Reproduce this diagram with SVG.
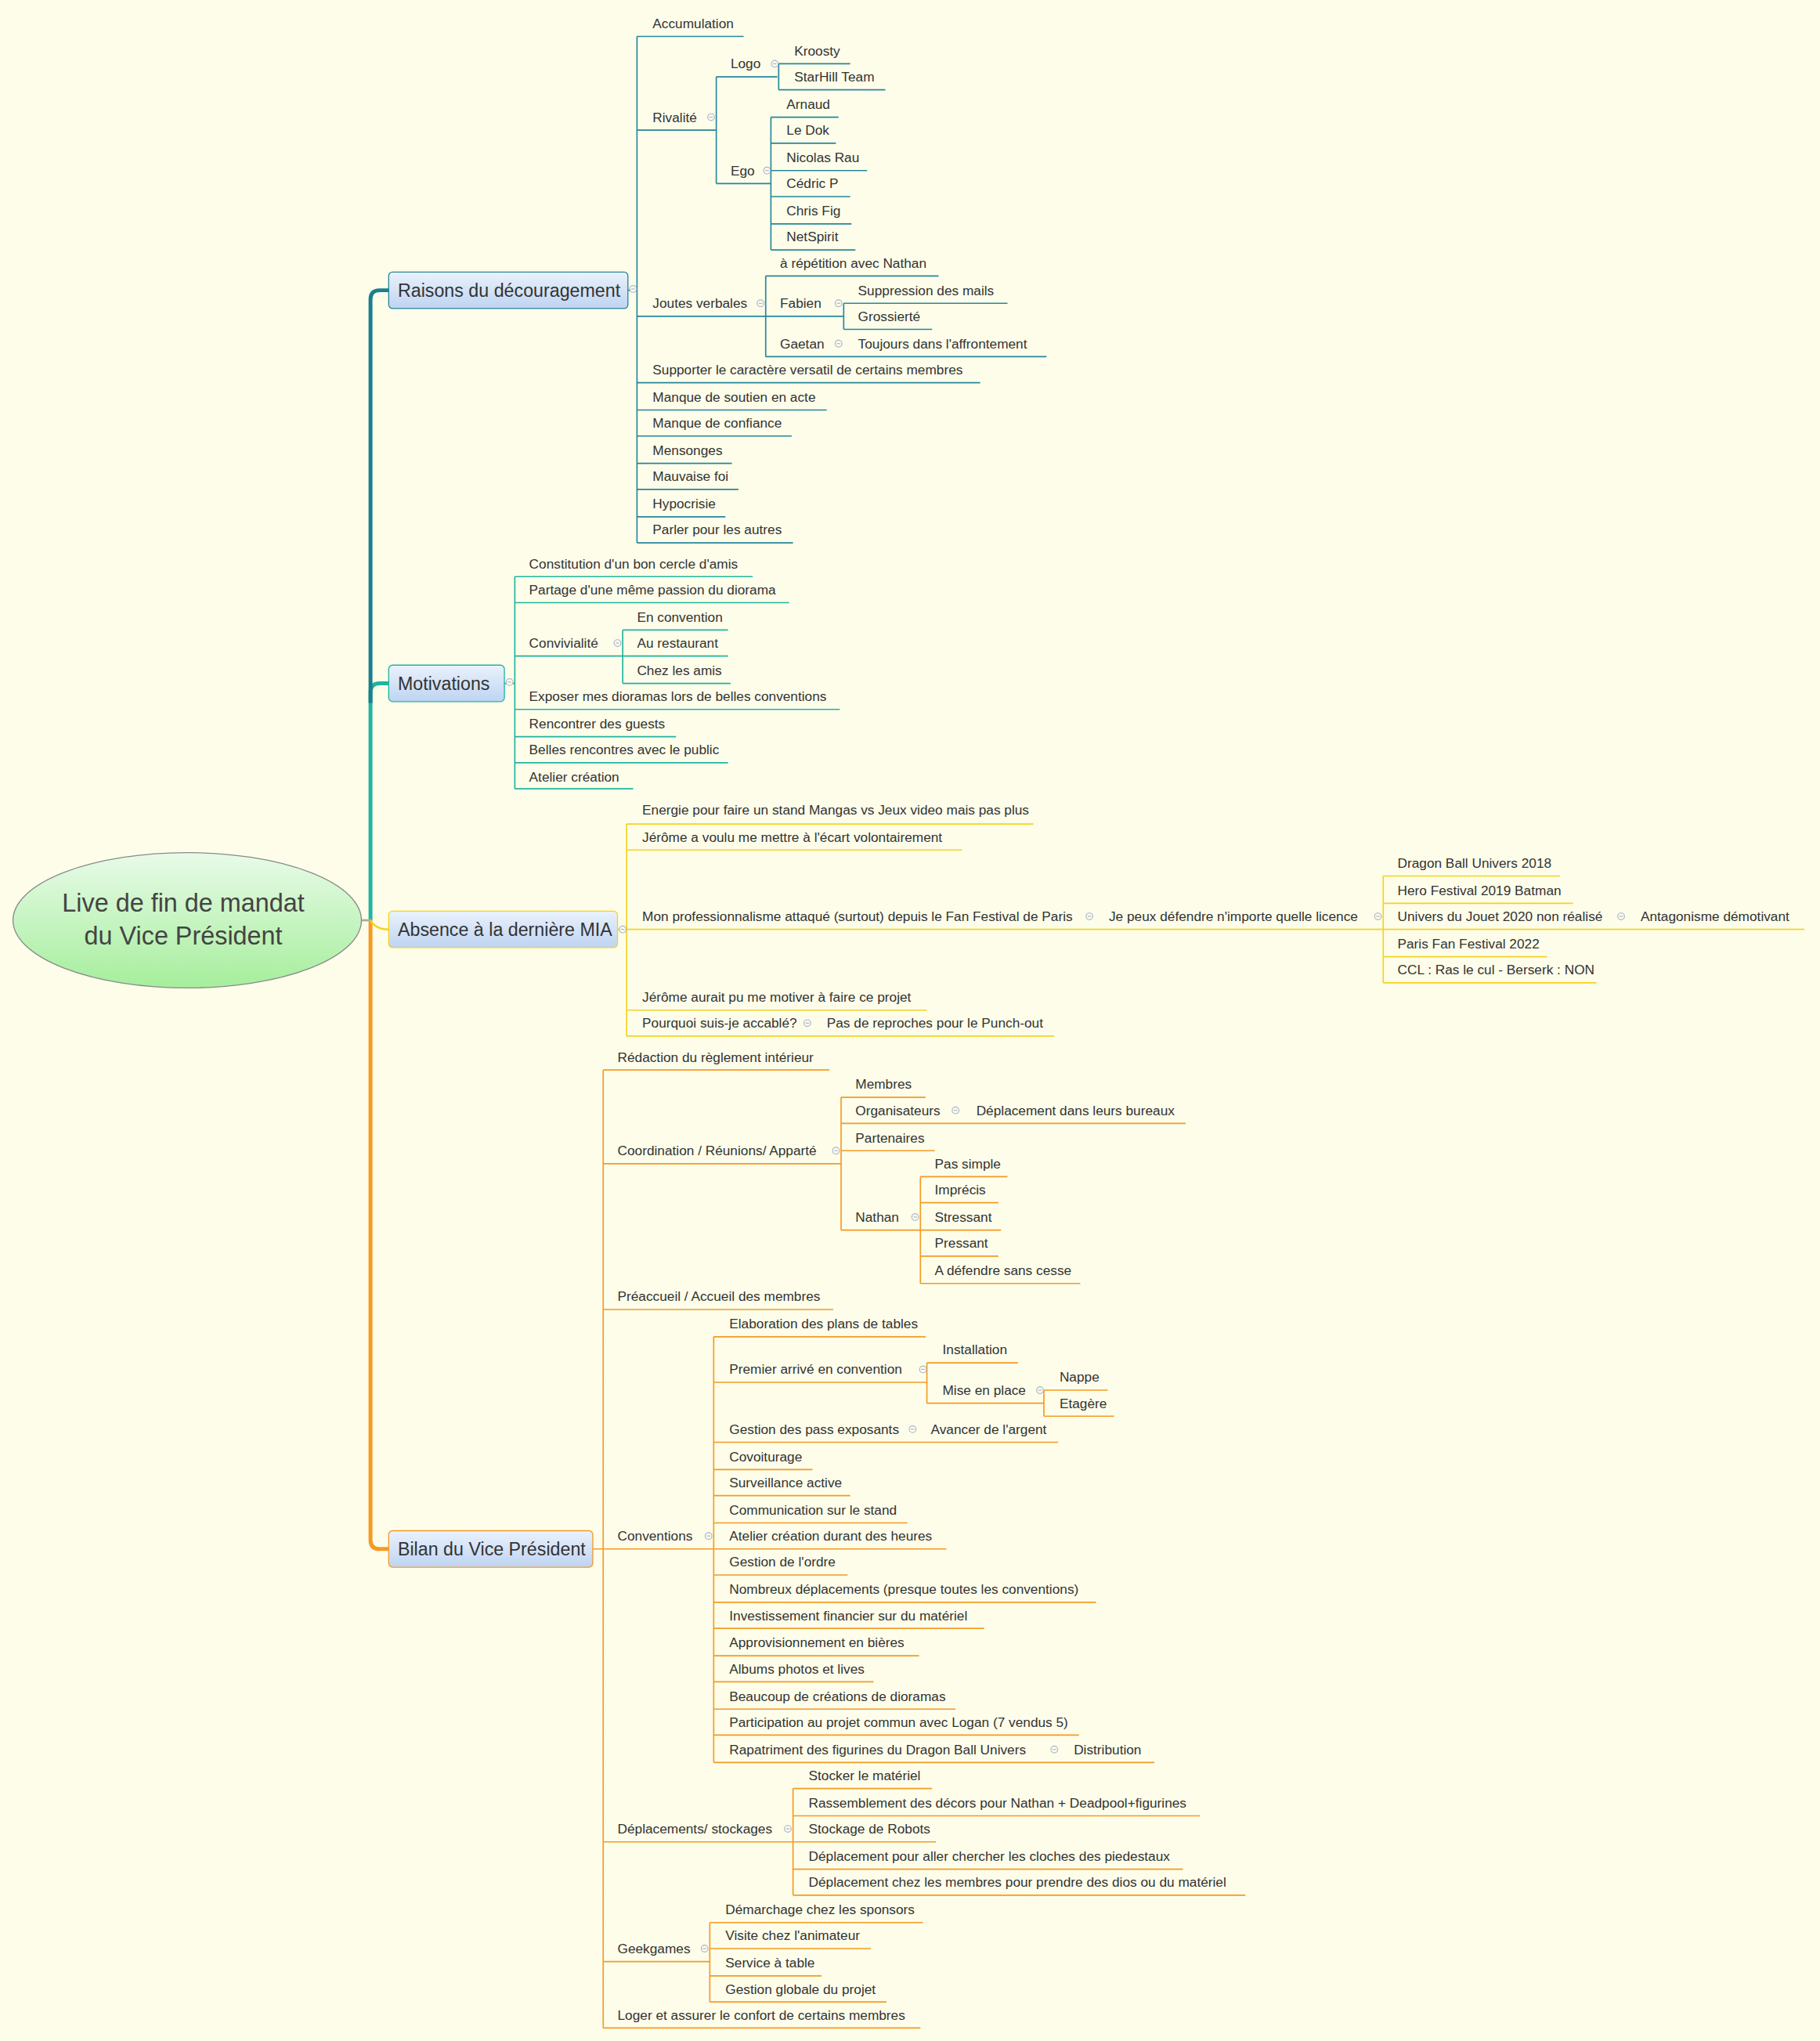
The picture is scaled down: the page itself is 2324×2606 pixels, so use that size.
<svg xmlns="http://www.w3.org/2000/svg" width="2324" height="2606" viewBox="0 0 2324 2606">
<defs>
<linearGradient id="bx" x1="0" y1="0" x2="0" y2="1"><stop offset="0" stop-color="#eaf2fc"/><stop offset="1" stop-color="#bed4f2"/></linearGradient>
<linearGradient id="el" x1="0" y1="0" x2="0" y2="1"><stop offset="0" stop-color="#e8fbe8"/><stop offset="1" stop-color="#a6ee9c"/></linearGradient>
<g id="mk"><circle r="2.6" fill="#fdfdea" stroke="#aab4cc" stroke-width="0.7"/><path d="M-1.4,0H1.4" stroke="#aab4cc" stroke-width="0.7"/></g>
<style>
text{font-family:"Liberation Sans",Arial,sans-serif;font-size:10.4px;fill:#333;dominant-baseline:central}
.bl text{font-size:14px}
.R{stroke:#26879a;fill:none;stroke-width:1}
.M{stroke:#1fb5a0;fill:none;stroke-width:1}
.A{stroke:#f5d31e;fill:none;stroke-width:1}
.B{stroke:#f59a23;fill:none;stroke-width:1}
</style>
</defs>
<rect width="2324" height="2606" fill="#fdfdea"/>
<g transform="scale(1.66 1.662)">
<g id="connectors">
<path d="M285,707V532Q285,525 292,525H299" stroke="#1fb5a0" stroke-width="3" fill="none"/>
<path d="M285,540V230Q285,223 292,223H299" stroke="#1a7f8e" stroke-width="3" fill="none"/>
<path d="M285,707V1183Q285,1190 292,1190H299" stroke="#f59a23" stroke-width="3" fill="none"/>
<path d="M278,707H285Q289,714 299,714" stroke="#f5d31e" stroke-width="1.5" fill="none"/>
<path d="M278,707H285" stroke="#aaa" stroke-width="1.5"/>
<g class="R">
<path d="M483,223H490M490,28V417M490,28H572M490,100H551M551,59V141M551,59H598M599,49V69M599,49H654M599,69H681M551,141H593M593,90V192M593,90H645M593,110H643M593,131H667M593,151H654M593,172H655M593,192H658M490,243H589M589,212V274M589,212H722M589,243H649M649,233V253M649,233H775M649,253H717M589,274H805M490,294H754M490,315H636M490,335H609M490,356H563M490,376H568M490,397H558M490,417H610"/>
</g>
<g class="M">
<path d="M388,525H396M396,443V606M396,443H579M396,463H607M396,504H479M479,484V525M479,484H560M479,504H560M479,525H562M396,545H646M396,566H520M396,586H560M396,606H487"/>
</g>
<g class="A">
<path d="M475,714H482M482,633V796M482,633H795M482,653H740M482,714H1064M1064,673V755M1064,673H1200M1064,694H1210M1064,714H1388M1064,735H1190M1064,755H1228M482,776H713M482,796H811"/>
</g>
<g class="B">
<path d="M456,1190H464M464,822V1558M464,822H638M464,894H647M647,843V945M647,843H712M647,863H912M647,884H719M647,945H708M708,904V986M708,904H775M708,924H768M708,945H770M708,965H768M708,986H831M464,1006H641M464,1190H549M549,1027V1354M549,1027H712M549,1062H713M713,1047V1078M713,1047H783M713,1078H803M803,1068V1088M803,1068H852M803,1088H857M549,1108H814M549,1129H625M549,1149H654M549,1170H698M549,1190H728M549,1210H652M549,1231H843M549,1251H757M549,1272H707M549,1292H672M549,1313H735M549,1333H830M549,1354H888M464,1415H610M610,1374V1456M610,1374H717M610,1395H923M610,1415H720M610,1436H910M610,1456H958M464,1507H546M546,1477V1538M546,1477H710M546,1497H670M546,1518H632M546,1538H682M464,1558H708"/>
</g>
<g id="markers">
<use href="#mk" x="487" y="222"/><use href="#mk" x="547" y="90"/><use href="#mk" x="596" y="49"/><use href="#mk" x="590" y="131"/><use href="#mk" x="585" y="233"/><use href="#mk" x="645" y="233"/><use href="#mk" x="645" y="264"/>
<use href="#mk" x="392" y="524"/><use href="#mk" x="475" y="494"/>
<use href="#mk" x="479" y="714"/><use href="#mk" x="838" y="704"/><use href="#mk" x="1060" y="704"/><use href="#mk" x="1247" y="704"/><use href="#mk" x="621" y="786"/>
<use href="#mk" x="643" y="884"/><use href="#mk" x="735" y="853"/><use href="#mk" x="704" y="935"/><use href="#mk" x="545" y="1180"/><use href="#mk" x="710" y="1052"/><use href="#mk" x="800" y="1068"/><use href="#mk" x="702" y="1098"/><use href="#mk" x="811" y="1344"/><use href="#mk" x="606" y="1405"/><use href="#mk" x="542" y="1497"/>
</g>
</g>
<g id="root"><ellipse cx="144" cy="707" rx="134" ry="52" fill="url(#el)" stroke="#8a8a8a" stroke-width="0.8"/>
<text x="141" y="694" text-anchor="middle" style="font-size:19.5px;fill:#444">Live de fin de mandat</text>
<text x="141" y="719" text-anchor="middle" style="font-size:19.5px;fill:#444">du Vice Président</text></g>
<g id="b-raisons" class="bl"><rect x="299" y="209" width="184" height="28" rx="3" fill="url(#bx)" stroke="#26879a" stroke-width="0.8"/><text x="306" y="223">Raisons du découragement</text></g>
<g id="b-motiv" class="bl"><rect x="299" y="511" width="89" height="28" rx="3" fill="url(#bx)" stroke="#1fb5a0" stroke-width="0.8"/><text x="306" y="525">Motivations</text></g>
<g id="b-absence" class="bl"><rect x="299" y="700" width="176" height="28" rx="3" fill="url(#bx)" stroke="#f5d31e" stroke-width="0.8"/><text x="306" y="714">Absence à la dernière MIA</text></g>
<g id="b-bilan" class="bl"><rect x="299" y="1176" width="157" height="28" rx="3" fill="url(#bx)" stroke="#f59a23" stroke-width="0.8"/><text x="306" y="1190">Bilan du Vice Président</text></g>
<g id="nodes-raisons">
<g id="r1"><text x="502" y="18">Accumulation</text></g>
<g id="r2"><text x="502" y="90">Rivalité</text></g>
<g id="r3"><text x="562" y="49">Logo</text></g>
<g id="r4"><text x="611" y="39">Kroosty</text></g>
<g id="r5"><text x="611" y="59">StarHill Team</text></g>
<g id="r6"><text x="562" y="131">Ego</text></g>
<g id="r7"><text x="605" y="80">Arnaud</text></g>
<g id="r8"><text x="605" y="100">Le Dok</text></g>
<g id="r9"><text x="605" y="121">Nicolas Rau</text></g>
<g id="r10"><text x="605" y="141">Cédric P</text></g>
<g id="r11"><text x="605" y="162">Chris Fig</text></g>
<g id="r12"><text x="605" y="182">NetSpirit</text></g>
<g id="r13"><text x="502" y="233">Joutes verbales</text></g>
<g id="r14"><text x="600" y="202">à répétition avec Nathan</text></g>
<g id="r15"><text x="600" y="233">Fabien</text></g>
<g id="r16"><text x="660" y="223">Suppression des mails</text></g>
<g id="r17"><text x="660" y="243">Grossierté</text></g>
<g id="r18"><text x="600" y="264">Gaetan</text></g>
<g id="r19"><text x="660" y="264">Toujours dans l'affrontement</text></g>
<g id="r20"><text x="502" y="284">Supporter le caractère versatil de certains membres</text></g>
<g id="r21"><text x="502" y="305">Manque de soutien en acte</text></g>
<g id="r22"><text x="502" y="325">Manque de confiance</text></g>
<g id="r23"><text x="502" y="346">Mensonges</text></g>
<g id="r24"><text x="502" y="366">Mauvaise foi</text></g>
<g id="r25"><text x="502" y="387">Hypocrisie</text></g>
<g id="r26"><text x="502" y="407">Parler pour les autres</text></g>
</g>
<g id="nodes-motiv">
<g id="m1"><text x="407" y="433">Constitution d'un bon cercle d'amis</text></g>
<g id="m2"><text x="407" y="453">Partage d'une même passion du diorama</text></g>
<g id="m3"><text x="407" y="494">Convivialité</text></g>
<g id="m4"><text x="490" y="474">En convention</text></g>
<g id="m5"><text x="490" y="494">Au restaurant</text></g>
<g id="m6"><text x="490" y="515">Chez les amis</text></g>
<g id="m7"><text x="407" y="535">Exposer mes dioramas lors de belles conventions</text></g>
<g id="m8"><text x="407" y="556">Rencontrer des guests</text></g>
<g id="m9"><text x="407" y="576">Belles rencontres avec le public</text></g>
<g id="m10"><text x="407" y="597">Atelier création</text></g>
</g>
<g id="nodes-absence">
<g id="a1"><text x="494" y="622">Energie pour faire un stand Mangas vs Jeux video mais pas plus</text></g>
<g id="a2"><text x="494" y="643">Jérôme a voulu me mettre à l'écart volontairement</text></g>
<g id="a3"><text x="494" y="704">Mon professionnalisme attaqué (surtout) depuis le Fan Festival de Paris</text></g>
<g id="a4"><text x="853" y="704">Je peux défendre n'importe quelle licence</text></g>
<g id="a5"><text x="1075" y="663">Dragon Ball Univers 2018</text></g>
<g id="a6"><text x="1075" y="684">Hero Festival 2019 Batman</text></g>
<g id="a7"><text x="1075" y="704">Univers du Jouet 2020 non réalisé</text></g>
<g id="a8"><text x="1262" y="704">Antagonisme démotivant</text></g>
<g id="a9"><text x="1075" y="725">Paris Fan Festival 2022</text></g>
<g id="a10"><text x="1075" y="745">CCL : Ras le cul - Berserk : NON</text></g>
<g id="a11"><text x="494" y="766">Jérôme aurait pu me motiver à faire ce projet</text></g>
<g id="a12"><text x="494" y="786">Pourquoi suis-je accablé?</text></g>
<g id="a13"><text x="636" y="786">Pas de reproches pour le Punch-out</text></g>
</g>
<g id="nodes-bilan">
<g id="b1"><text x="475" y="812">Rédaction du règlement intérieur</text></g>
<g id="b2"><text x="475" y="884">Coordination / Réunions/ Apparté</text></g>
<g id="b3"><text x="658" y="833">Membres</text></g>
<g id="b4"><text x="658" y="853">Organisateurs</text></g>
<g id="b5"><text x="751" y="853">Déplacement dans leurs bureaux</text></g>
<g id="b6"><text x="658" y="874">Partenaires</text></g>
<g id="b7"><text x="658" y="935">Nathan</text></g>
<g id="b8"><text x="719" y="894">Pas simple</text></g>
<g id="b9"><text x="719" y="914">Imprécis</text></g>
<g id="b10"><text x="719" y="935">Stressant</text></g>
<g id="b11"><text x="719" y="955">Pressant</text></g>
<g id="b12"><text x="719" y="976">A défendre sans cesse</text></g>
<g id="b13"><text x="475" y="996">Préaccueil / Accueil des membres</text></g>
<g id="b14"><text x="475" y="1180">Conventions</text></g>
<g id="b15"><text x="561" y="1017">Elaboration des plans de tables</text></g>
<g id="b16"><text x="561" y="1052">Premier arrivé en convention</text></g>
<g id="b17"><text x="725" y="1037">Installation</text></g>
<g id="b18"><text x="725" y="1068">Mise en place</text></g>
<g id="b19"><text x="815" y="1058">Nappe</text></g>
<g id="b20"><text x="815" y="1078">Etagère</text></g>
<g id="b21"><text x="561" y="1098">Gestion des pass exposants</text></g>
<g id="b22"><text x="716" y="1098">Avancer de l'argent</text></g>
<g id="b23"><text x="561" y="1119">Covoiturage</text></g>
<g id="b24"><text x="561" y="1139">Surveillance active</text></g>
<g id="b25"><text x="561" y="1160">Communication sur le stand</text></g>
<g id="b26"><text x="561" y="1180">Atelier création durant des heures</text></g>
<g id="b27"><text x="561" y="1200">Gestion de l'ordre</text></g>
<g id="b28"><text x="561" y="1221">Nombreux déplacements (presque toutes les conventions)</text></g>
<g id="b29"><text x="561" y="1241">Investissement financier sur du matériel</text></g>
<g id="b30"><text x="561" y="1262">Approvisionnement en bières</text></g>
<g id="b31"><text x="561" y="1282">Albums photos et lives</text></g>
<g id="b32"><text x="561" y="1303">Beaucoup de créations de dioramas</text></g>
<g id="b33"><text x="561" y="1323">Participation au projet commun avec Logan (7 vendus 5)</text></g>
<g id="b34"><text x="561" y="1344">Rapatriment des figurines du Dragon Ball Univers</text></g>
<g id="b35"><text x="826" y="1344">Distribution</text></g>
<g id="b36"><text x="475" y="1405">Déplacements/ stockages</text></g>
<g id="b37"><text x="622" y="1364">Stocker le matériel</text></g>
<g id="b38"><text x="622" y="1385">Rassemblement des décors pour Nathan + Deadpool+figurines</text></g>
<g id="b39"><text x="622" y="1405">Stockage de Robots</text></g>
<g id="b40"><text x="622" y="1426">Déplacement pour aller chercher les cloches des piedestaux</text></g>
<g id="b41"><text x="622" y="1446">Déplacement chez les membres pour prendre des dios ou du matériel</text></g>
<g id="b42"><text x="475" y="1497">Geekgames</text></g>
<g id="b43"><text x="558" y="1467">Démarchage chez les sponsors</text></g>
<g id="b44"><text x="558" y="1487">Visite chez l'animateur</text></g>
<g id="b45"><text x="558" y="1508">Service à table</text></g>
<g id="b46"><text x="558" y="1528">Gestion globale du projet</text></g>
<g id="b47"><text x="475" y="1548">Loger et assurer le confort de certains membres</text></g>
</g>
</g>
</svg>
